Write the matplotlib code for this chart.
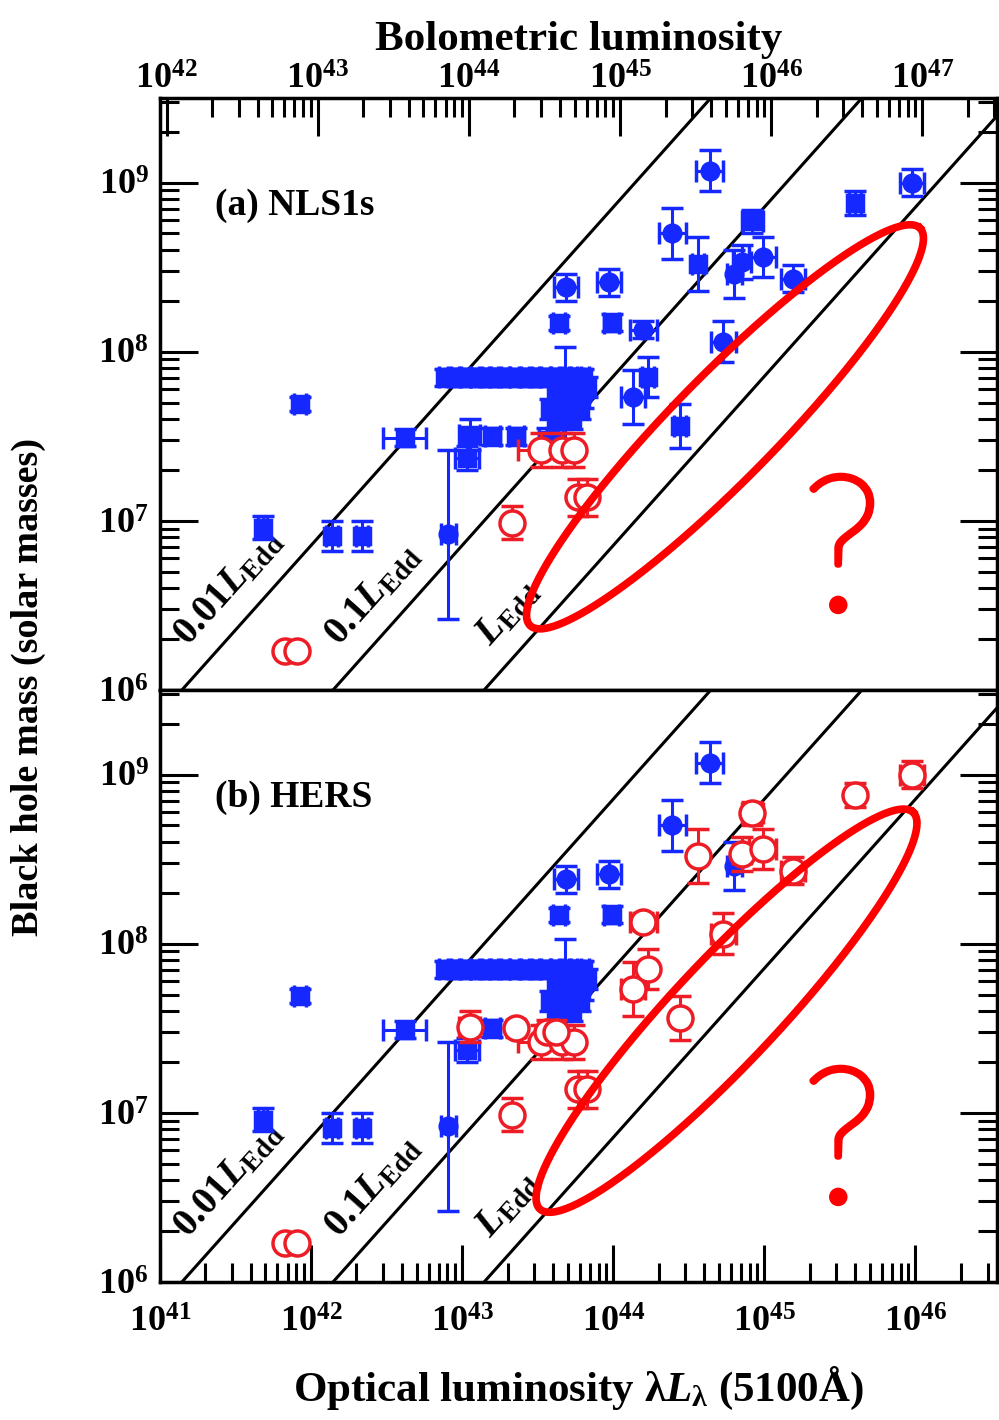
import numpy as np
import matplotlib
matplotlib.use('Agg')
import matplotlib.pyplot as plt
import matplotlib.patheffects as pe
from matplotlib.ticker import LogLocator, NullFormatter

plt.rcParams['font.family'] = ['Liberation Serif', 'DejaVu Serif']
plt.rcParams['font.weight'] = 'bold'
plt.rcParams['axes.labelweight'] = 'bold'
plt.rcParams['mathtext.fontset'] = 'custom'
plt.rcParams['mathtext.rm'] = 'Liberation Serif:bold'
plt.rcParams['mathtext.it'] = 'Liberation Serif:italic:bold'
plt.rcParams['mathtext.bf'] = 'Liberation Serif:bold'

# NLS1 sample: log optical luminosity, log BH mass, errors (dex), marker, HERS flag
nls1_logL = [41.68, 41.93, 42.14, 42.34, 42.62, 42.91, 43.03, 43.05, 43.20, 43.36,
             43.56, 43.62,
             42.89, 42.95, 43.02, 43.09, 43.15, 43.22, 43.28, 43.35, 43.42, 43.48,
             43.55, 43.62, 43.68, 43.75, 43.80,
             43.62, 43.72, 43.80, 43.58, 43.68, 43.78, 43.62, 43.73, 43.83, 43.68,
             43.69, 43.64, 43.97, 43.99, 44.20, 44.13, 44.23, 44.44, 44.39, 44.56,
             44.64, 44.73, 44.80, 44.85, 44.92, 44.99, 45.19, 45.60, 45.98]
nls1_logM = [6.96, 7.69, 6.91, 6.91, 7.49, 6.92, 7.37, 7.51, 7.50, 7.50,
             7.48, 7.48,
             7.85, 7.85, 7.85, 7.85, 7.85, 7.85, 7.85, 7.85, 7.85, 7.85,
             7.85, 7.85, 7.85, 7.85, 7.85,
             7.75, 7.75, 7.73, 7.66, 7.66, 7.66, 7.60, 7.60, 7.79, 7.73,
             8.38, 8.17, 8.41, 8.17, 8.13, 7.73, 7.85, 7.56, 8.70, 8.52,
             9.07, 8.06, 8.46, 8.53, 8.77, 8.56, 8.43, 8.88, 9.00]
nls1_dlogL = [0.03, 0.04, 0.04, 0.04, 0.14, 0.05, 0.08, 0.07, 0.05, 0.05,
              0.05, 0.05,
              0.04, 0.04, 0.04, 0.04, 0.04, 0.04, 0.04, 0.04, 0.04, 0.04,
              0.04, 0.04, 0.04, 0.04, 0.04,
              0.04, 0.04, 0.04, 0.04, 0.04, 0.04, 0.04, 0.04, 0.04, 0.04,
              0.08, 0.04, 0.08, 0.05, 0.09, 0.08, 0.04, 0.04, 0.09, 0.04,
              0.09, 0.08, 0.05, 0.06, 0.07, 0.09, 0.08, 0.04, 0.08]
nls1_dlogM = [0.07, 0.04, 0.09, 0.09, 0.05, 0.50, 0.07, 0.09, 0.05, 0.05,
              0.07, 0.07,
              0.05, 0.05, 0.05, 0.05, 0.05, 0.05, 0.05, 0.05, 0.05, 0.05,
              0.05, 0.05, 0.05, 0.05, 0.05,
              0.06, 0.06, 0.06, 0.06, 0.06, 0.06, 0.06, 0.06, 0.06, 0.30,
              0.08, 0.04, 0.08, 0.05, 0.05, 0.16, 0.12, 0.13, 0.15, 0.16,
              0.12, 0.12, 0.14, 0.10, 0.07, 0.12, 0.08, 0.07, 0.08]
nls1_marker = ['s', 's', 's', 's', 's', 'o', 's', 's', 's', 's',
               's', 'o',
               's', 's', 's', 's', 's', 's', 's', 's', 's', 's',
               's', 's', 's', 's', 's',
               's', 's', 'o', 's', 's', 's', 's', 's', 's', 's',
               'o', 's', 'o', 's', 'o', 'o', 's', 's', 'o', 's',
               'o', 'o', 'o', 'o', 's', 'o', 'o', 's', 'o']
nls1_hers = [0, 0, 0, 0, 0, 0, 0, 1, 0, 1,
             1, 1,
             0, 0, 0, 0, 0, 0, 0, 0, 0, 0,
             0, 0, 0, 0, 0,
             0, 0, 0, 0, 0, 0, 0, 0, 0, 0,
             0, 0, 0, 0, 1, 1, 1, 1, 0, 1,
             0, 1, 0, 1, 1, 1, 1, 1, 1]

# broad-line objects shown in red in both panels
other_logL = [43.52, 43.66, 43.74, 43.33, 43.77, 43.83, 41.83, 41.91]
other_logM = [7.42, 7.42, 7.42, 6.99, 7.14, 7.14, 6.23, 6.23]
other_dlogL = [0.15, 0.03, 0.03, 0.03, 0.03, 0.03, 0.0, 0.0]
other_dlogM = [0.10, 0.10, 0.10, 0.10, 0.11, 0.11, 0.0, 0.0]

edd_fractions = [0.01, 0.1, 1.0]
edd_labels = [r'$0.01L_{\rm Edd}$', r'$0.1L_{\rm Edd}$', r'$L_{\rm Edd}$']
bolo_ticks = [1e42, 1e43, 1e44, 1e45, 1e46, 1e47]
L_EDD_PER_MSUN = 1.26e38
BOL_CORR = 9.0

BLUE = '#1428ff'
RED = '#ee1c25'


def log_err(lv, d):
    if d == 0:
        return None
    v = 10 ** lv
    return [[v - 10 ** (lv - d)], [10 ** (lv + d) - v]]


def draw_points(ax, lx, ly, dx, dy, markers, color, face, ms, z):
    for i in range(len(lx)):
        ax.errorbar(10 ** lx[i], 10 ** ly[i], xerr=log_err(lx[i], dx[i]),
                    yerr=log_err(ly[i], dy[i]), fmt=markers[i], color=color,
                    mfc=face, mec=color, ms=ms, mew=2.5, elinewidth=2.2,
                    capsize=8, capthick=2.2, zorder=z)


fig = plt.figure(figsize=(9.99, 14.2), dpi=100)
ax1 = fig.add_axes([0.160, 0.5141, 0.838, 0.4169])
ax2 = fig.add_axes([0.160, 0.0972, 0.838, 0.4169])

xlim = (1e41, 10 ** 46.54)
ylim = (1e6, 10 ** 9.5)

ellipses = [((44.74, 7.556), (1.29, 1.175), (0.246, -0.215)),
            ((44.75, 7.604), (1.235, 1.173), (0.251, -0.211))]

for k, ax in enumerate([ax1, ax2]):
    ax.set_xscale('log')
    ax.set_yscale('log')
    ax.set_xlim(*xlim)
    ax.set_ylim(*ylim)
    for sp in ax.spines.values():
        sp.set_linewidth(2.5)

    # Eddington-ratio lines
    logm = np.array([5.0, 10.0])
    lx0 = np.log10(L_EDD_PER_MSUN / BOL_CORR)
    for f, lab in zip(edd_fractions, edd_labels):
        ax.plot(10 ** (lx0 + np.log10(f) + logm), 10 ** logm, color='black',
                lw=2.2, zorder=2)
        ms0 = 6.16
        p = (10 ** (lx0 + np.log10(f) + ms0), 10 ** ms0)
        d1 = ax.transData.transform(p)
        d2 = ax.transData.transform((p[0] * 10, p[1] * 10))
        ang = np.degrees(np.arctan2(d2[1] - d1[1], d2[0] - d1[0]))
        off = 11
        ax.annotate(lab, xy=p, xytext=(-off * np.sin(np.radians(ang)), off * np.cos(np.radians(ang))),
                    textcoords='offset points', rotation=ang, rotation_mode='anchor',
                    ha='left', va='bottom', fontsize=28, zorder=3)

    # blue NLS1s; HERS objects turn red in the lower panel
    idx = [i for i in range(len(nls1_logL)) if k == 0 or not nls1_hers[i]]
    draw_points(ax, [nls1_logL[i] for i in idx], [nls1_logM[i] for i in idx],
                [nls1_dlogL[i] for i in idx], [nls1_dlogM[i] for i in idx],
                [nls1_marker[i] for i in idx], BLUE, BLUE, 12, 4)
    n_o = len(other_logL)
    draw_points(ax, other_logL, other_logM, other_dlogL, other_dlogM,
                ['o'] * n_o, RED, 'white', 18, 5)
    if k == 1:
        idx = [i for i in range(len(nls1_logL)) if nls1_hers[i]]
        draw_points(ax, [nls1_logL[i] for i in idx], [nls1_logM[i] for i in idx],
                    [nls1_dlogL[i] for i in idx], [nls1_dlogM[i] for i in idx],
                    ['o'] * len(idx), RED, 'white', 18, 5)

    # highlighted region near the Eddington limit
    (cx, cy), (ax_, ay_), (bx, by) = ellipses[k]
    t = np.linspace(0, 2 * np.pi, 400)
    ax.plot(10 ** (cx + ax_ * np.cos(t) + bx * np.sin(t)),
            10 ** (cy + ay_ * np.cos(t) + by * np.sin(t)),
            color='#ff0000', lw=5.5, zorder=6)
    ax.text(0.815, 0.222, '?', transform=ax.transAxes, ha='center', va='center',
            fontsize=136, color='#ff0000', family=['Lato', 'Liberation Sans'],
            fontweight='light', zorder=6,
            path_effects=[pe.withStroke(linewidth=4.5, foreground='#ff0000')])

    ax.text(0.066, 0.819, ['(a) NLS1s', '(b) HERS'][k], transform=ax.transAxes,
            ha='left', va='center', fontsize=27)

    ax.tick_params(axis='y', which='both', direction='in', left=True, right=True,
                   width=2.2, labelsize=26, pad=8)
    ax.tick_params(axis='y', which='major', length=27)
    ax.tick_params(axis='y', which='minor', length=14)

ax1.tick_params(axis='x', which='both', bottom=False, top=False,
                labelbottom=False)
ax2.tick_params(axis='x', which='both', direction='in', top=False,
                width=2.2, labelsize=26, pad=18)
ax2.tick_params(axis='x', which='major', length=27)
ax2.tick_params(axis='x', which='minor', length=14)
ax2.set_xlabel(r'Optical luminosity λ$L_\mathregular{λ}$ (5100Å)', fontsize=31,
               labelpad=18)

secax = ax1.secondary_xaxis('top', functions=(lambda x: x * BOL_CORR,
                                             lambda x: x / BOL_CORR))
secax.set_xticks(bolo_ticks)
secax.xaxis.set_minor_locator(LogLocator(base=10, subs=np.arange(2, 10)))
secax.xaxis.set_minor_formatter(NullFormatter())
secax.tick_params(axis='x', which='both', direction='in', width=2.2,
                  labelsize=26, pad=1)
secax.tick_params(axis='x', which='major', length=27)
secax.tick_params(axis='x', which='minor', length=14)
secax.set_xlabel('Bolometric luminosity', fontsize=31, labelpad=10)

fig.text(0.028, 0.516, 'Black hole mass (solar masses)', rotation=90,
         ha='center', va='center', fontsize=27.5)

fig.savefig('out.png', dpi=100)
